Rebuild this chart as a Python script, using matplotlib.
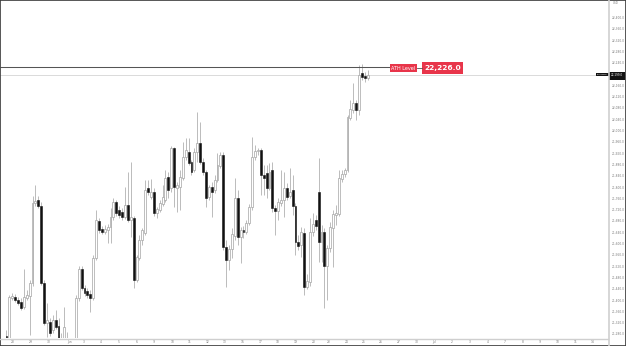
import matplotlib
matplotlib.use("Agg")
import matplotlib.pyplot as plt
from matplotlib.patches import Rectangle
from matplotlib.lines import Line2D

# ---- data (4H candles) ----
opens = [21275, 21267, 21409, 21413, 21402, 21395, 21377, 21409, 21416, 21462,
         21745, 21756, 21735, 21462, 21321, 21324, 21296, 21331, 21310, 21267,
         21245, 21268, 21225, 21240, 21235, 21410, 21512, 21445, 21434, 21423,
         21409, 21551, 21682, 21653, 21643, 21650, 21660, 21696, 21749, 21721,
         21713, 21696, 21738, 21685, 21692, 21473, 21551, 21614, 21639, 21798,
         21767, 21784, 21710, 21721, 21742, 21756, 21838, 21798, 21940, 21798,
         21802, 21834, 21908, 21926, 21891, 21862, 21926, 21958, 21891, 21855,
         21767, 21802, 21791, 21827, 21876, 21915, 21590, 21544, 21583, 21629,
         21763, 21625, 21650, 21643, 21675, 21731, 21908, 21930, 21933, 21845,
         21852, 21798, 21862, 21728, 21717, 21745, 21756, 21798, 21770, 21791,
         21735, 21607, 21597, 21639, 21448, 21466, 21643, 21685, 21784, 21607,
         21643, 21522, 21586, 21657, 21703, 21706, 21830, 21848, 21862, 22046,
         22075, 22099, 22075, 22206, 22195, 22188]
highs = [21296, 21420, 21427, 21423, 21413, 21409, 21512, 21437, 21473, 21770,
         21809, 21770, 21749, 21473, 21391, 21338, 21349, 21367, 21338, 21285,
         21377, 21290, 21262, 21260, 21420, 21522, 21522, 21455, 21445, 21437,
         21561, 21721, 21692, 21664, 21668, 21671, 21728, 21763, 21756, 21735,
         21728, 21802, 21855, 21891, 21699, 21561, 21632, 21657, 21827, 21827,
         21830, 21798, 21731, 21756, 21809, 21862, 21855, 21947, 21944, 21820,
         21862, 21961, 21975, 21975, 21898, 21940, 22068, 22032, 21905, 21862,
         21809, 21820, 21845, 21922, 21926, 21926, 21614, 21597, 21657, 21834,
         21791, 21660, 21664, 21685, 21742, 21979, 21951, 21940, 21940, 21880,
         21880, 21887, 21891, 21738, 21763, 21862, 21855, 21816, 21869, 21845,
         21745, 21632, 21660, 21657, 21494, 21692, 21710, 21703, 21905, 21668,
         21657, 21597, 21678, 21721, 21738, 21862, 21862, 21869, 22057, 22110,
         22170, 22110, 22234, 22238, 22209, 22216]
lows = [21250, 21255, 21402, 21395, 21384, 21367, 21370, 21402, 21278, 21452,
        21735, 21728, 21455, 21314, 21271, 21274, 21285, 21299, 21243, 21230,
        21235, 21200, 21195, 21190, 21225, 21400, 21437, 21416, 21409, 21360,
        21402, 21544, 21639, 21636, 21636, 21604, 21604, 21685, 21699, 21692,
        21685, 21689, 21678, 21625, 21445, 21466, 21544, 21597, 21632, 21774,
        21760, 21699, 21692, 21713, 21735, 21749, 21763, 21784, 21731, 21713,
        21721, 21827, 21898, 21880, 21845, 21855, 21891, 21884, 21845, 21731,
        21756, 21696, 21781, 21820, 21869, 21579, 21448, 21508, 21551, 21614,
        21597, 21533, 21620, 21636, 21668, 21721, 21898, 21915, 21774, 21774,
        21763, 21791, 21713, 21632, 21685, 21735, 21696, 21756, 21763, 21703,
        21561, 21579, 21554, 21420, 21441, 21452, 21629, 21650, 21537, 21537,
        21374, 21402, 21572, 21519, 21668, 21699, 21820, 21838, 21855, 22039,
        22064, 22039, 22057, 22181, 22174, 22181]
closes = [21265, 21413, 21416, 21402, 21391, 21374, 21413, 21420, 21462, 21745,
          21752, 21735, 21462, 21321, 21331, 21285, 21331, 21306, 21267, 21245,
          21306, 21225, 21240, 21230, 21410, 21512, 21445, 21427, 21420, 21409,
          21551, 21685, 21650, 21643, 21653, 21660, 21696, 21749, 21710, 21703,
          21696, 21738, 21685, 21696, 21473, 21554, 21614, 21650, 21791, 21784,
          21784, 21710, 21724, 21745, 21767, 21834, 21791, 21940, 21802, 21809,
          21838, 21908, 21933, 21887, 21855, 21926, 21958, 21891, 21855, 21763,
          21802, 21784, 21827, 21880, 21915, 21590, 21544, 21583, 21636, 21763,
          21625, 21650, 21643, 21675, 21731, 21908, 21930, 21933, 21845, 21834,
          21798, 21855, 21728, 21717, 21749, 21756, 21798, 21767, 21784, 21735,
          21607, 21593, 21643, 21448, 21469, 21643, 21671, 21664, 21607, 21643,
          21522, 21586, 21660, 21706, 21710, 21834, 21848, 21862, 22050, 22078,
          22099, 22075, 22199, 22192, 22188, 22199]

ath_level = 22226.0
last_price = closes[-1]

date_tick_pos = [2.1, 8.4, 14.6, 21.7, 26.6, 32.8, 38.9, 45.1, 51.1, 57.3, 63.4,
                 69.5, 75.6, 81.7, 87.8, 93.9, 100.1, 106.2, 111.5, 117.7, 123.5,
                 129.6, 135.7, 141.9, 147.9, 154.0, 160.4, 166.4, 172.5, 178.6,
                 184.6, 190.7, 196.8, 202.8]
date_tick_labels = ["28", "29", "30", "Jun", "3", "4", "5", "6", "9", "10", "11",
                    "12", "13", "16", "17", "18", "19", "20", "23", "24", "25",
                    "26", "27", "30", "Jul", "2", "3", "4", "7", "8", "9", "10",
                    "11", "14"]
price_ticks = list(range(21280, 22401, 40))

# ---- figure ----
W, H = 626, 346
fig = plt.figure(figsize=(W / 100, H / 100), dpi=100)
fig.patch.set_facecolor("white")
ax_right_px, ax_bottom_px = 608, 338
ax = fig.add_axes([0, (H - ax_bottom_px) / H, ax_right_px / W, ax_bottom_px / H])
step = 2.89
ax.set_xlim(-6.5 / step, (ax_right_px - 6.5) / step)
ax.set_ylim(21267.5, 22464)
ax.set_axis_off()

n = len(opens)
xs = list(range(n))
ax.vlines(xs, lows, highs, color="#a9a9a9", lw=0.55, zorder=2)
bw = 0.66
for i in range(n):
    o, c = opens[i], closes[i]
    lo = min(o, c)
    h = max(abs(c - o), 2.5)
    if c >= o:
        r = Rectangle((i - bw / 2, lo), bw, h, facecolor="white",
                      edgecolor="#a4a4a4", lw=0.5, zorder=3)
    else:
        r = Rectangle((i - bw / 2, lo), bw, h, facecolor="#111111",
                      edgecolor="#111111", lw=0.4, zorder=3)
    ax.add_patch(r)

# ATH line and current price line
x0 = ax.get_xlim()[0]
ax.plot([x0, (390 - 6.5) / step], [ath_level, ath_level], color="#555555",
        lw=0.75, zorder=4, solid_capstyle="butt")
ax.axhline(last_price, color="#cccccc", lw=0.5, zorder=1)


def px(x):
    return x / W


def py(y):
    return 1 - y / H


# axis lines
fig.add_artist(Line2D([px(608.5), px(608.5)], [0, 1], color="#cfcfcf", lw=1.2))
fig.add_artist(Line2D([0, px(608)], [py(338.5), py(338.5)], color="#cfcfcf", lw=1.0))

ly = (22464 - last_price) / 3.54

# price labels (those under the price tag are hidden)
for p in price_ticks:
    y = (22464 - p) / 3.54
    if abs(y - ly) < 7:
        continue
    fig.text(px(611.5), py(y), f"{p:,.1f}", fontsize=2.1, color="#7a7a7a",
             ha="left", va="center")
fig.text(px(613), py(3.5), "USD", fontsize=2.0, color="#7a7a7a", ha="left", va="center")

# date labels
for pos, lab in zip(date_tick_pos, date_tick_labels):
    xp = 6.5 + pos * step
    fig.text(px(xp), py(342.3), lab, fontsize=2.2, color="#7a7a7a",
             ha="center", va="center")

# ATH label boxes
red = "#e8354a"
fig.add_artist(Rectangle((px(390), py(71.8)), 27 / W, 7.6 / H, facecolor=red,
                         edgecolor="none", transform=fig.transFigure))
fig.text(px(403.5), py(68.1), "ATH Level", fontsize=3.5, color="white",
         ha="center", va="center")
fig.add_artist(Line2D([px(417), px(422)], [py(68), py(68)], color="#555555", lw=0.6))
fig.add_artist(Rectangle((px(422), py(73.5)), 41 / W, 11.2 / H, facecolor=red,
                         edgecolor="none", transform=fig.transFigure))
fig.text(px(442.5), py(68.0), f"{ath_level:,.1f}", fontsize=5.4, color="white",
         fontweight="bold", ha="center", va="center")

# current price tag
fig.add_artist(Rectangle((px(608.5), py(ly + 5.5)), 16 / W, 8.5 / H,
                         facecolor="#131313", edgecolor="none", transform=fig.transFigure))
fig.text(px(616.5), py(ly + 0.3), f"{last_price:,.1f}", fontsize=2.0, color="white",
         ha="center", va="center")
fig.add_artist(Rectangle((px(596), py(ly + 1.5)), 12.5 / W, 3.5 / H,
                         facecolor="#131313", edgecolor="none", transform=fig.transFigure))
fig.text(px(602.2), py(ly - 0.2), "NAS100USD", fontsize=1.3, color="white",
         ha="center", va="center")

# screenshot frame
fig.add_artist(Rectangle((0, 0), 1, 1, fill=False, edgecolor="#3a3a3a", lw=1.2,
                         transform=fig.transFigure))

fig.savefig("out.png", dpi=100, facecolor="white")
